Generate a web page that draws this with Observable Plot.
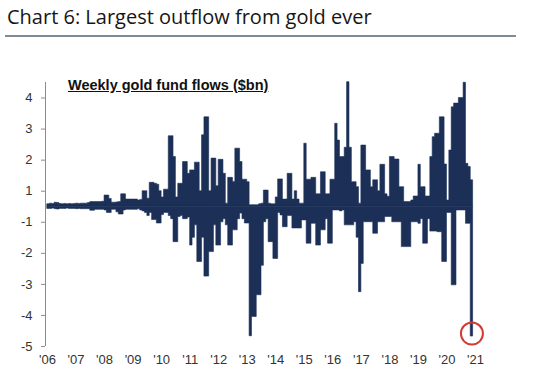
<!DOCTYPE html>
<html><head><meta charset="utf-8">
<script src="https://cdn.jsdelivr.net/npm/d3@7"></script>
<script src="https://cdn.jsdelivr.net/npm/@observablehq/plot@0.6"></script>
<style>
body{margin:0;background:#fff;}
#wrap{position:relative;width:560px;height:372px;overflow:hidden;background:#fff;}
#title{position:absolute;left:7px;top:3px;font-family:"Open Sans",Lato,sans-serif;font-size:20px;color:#151515;white-space:nowrap;}
#rule{position:absolute;left:5px;top:35px;width:511px;height:2px;background:#7f8b97;}
#chart{position:absolute;left:0;top:0;}
#sub{position:absolute;left:68px;top:77px;font-family:"Liberation Sans",Arial,sans-serif;font-weight:bold;font-size:14.5px;text-decoration:underline;color:#111;white-space:nowrap;}
</style></head><body>
<div id="wrap"><div id="title">Chart 6: Largest outflow from gold ever</div><div id="rule"></div><div id="chart"></div><div id="sub">Weekly gold fund flows ($bn)</div></div>
<script>
// Monthly envelope of weekly gold fund flows ($bn), Jan 2006 – Nov 2020
const years = [2006,2007,2008,2009,2010,2011,2012,2013,2014,2015,2016,2017,2018,2019,2020];
const maxInflow = [
  0.08,0.1,0.09,0.13,0.12,0.09,0.08,0.09,0.08,0.09,0.08,0.09,
  0.1,0.09,0.1,0.1,0.1,0.12,0.15,0.15,0.15,0.15,0.15,0.16,
  0.36,0.36,0.25,0.13,0.13,0.14,0.15,0.4,0.4,0.23,0.23,0.23,
  0.23,0.23,0.2,0.22,0.5,0.5,0.26,0.77,0.77,0.74,0.71,0.5,
  0.3,0.55,0.55,2.27,2.27,1.6,0.3,0.74,0.74,1.44,1.44,1.06,
  1.17,1.17,1.42,1.42,0.5,2.3,2.88,2.88,0.5,1.55,1.55,0.66,
  1.51,1.51,1.06,0.1,0.93,0.93,0.8,1.87,1.87,1.44,0.87,0.87,
  0.79,0.05,0.05,0.05,0.05,0.08,0.1,0.52,0.52,0.1,0.08,0.08,
  0.3,0.88,0.88,0.23,0.23,1.06,1.06,0.23,0.5,0.23,0.1,0.1,
  2.03,0.87,0.87,0.93,0.93,0.4,0.4,1.11,1.11,0.4,0.4,0.87,
  0.87,2.67,2.13,1.6,1.6,1.9,4.01,1.9,0.79,0.79,0.63,0.1,
  1.97,1.97,1.17,1.17,0.63,0.85,0.85,0.5,1.35,1.35,0.4,0.32,
  1.6,1.6,1.52,1.52,0.63,0.63,0.15,0.15,0.15,0.2,0.33,0.33,
  1.35,0.63,0.63,0.33,0.33,1.6,2.24,2.35,2.35,2.88,2.88,1.36,
  0.2,1.81,3.2,3.32,3.32,3.5,3.5,3.99,1.38,1.28,0.85
];
const maxOutflow = [
  -0.07,-0.07,-0.06,-0.08,-0.09,-0.07,-0.07,-0.07,-0.06,-0.07,-0.07,-0.07,
  -0.08,-0.07,-0.08,-0.08,-0.08,-0.08,-0.13,-0.13,-0.1,-0.1,-0.1,-0.1,
  -0.12,-0.2,-0.2,-0.1,-0.1,-0.18,-0.25,-0.25,-0.12,-0.1,-0.1,-0.1,
  -0.1,-0.1,-0.08,-0.12,-0.15,-0.2,-0.3,-0.2,-0.43,-0.43,-0.54,-0.54,
  -0.27,-0.2,-0.2,-0.3,-0.4,-1.14,-1.14,-0.33,-0.3,-0.4,-0.4,-0.35,
  -1.25,-1.0,-0.6,-1.78,-1.78,-1.0,-2.25,-2.25,-1.46,-1.46,-0.6,-1.25,
  -1.25,-0.5,-0.4,-0.6,-1.25,-1.25,-0.76,-0.76,-0.4,-0.22,-0.4,-0.54,
  -0.54,-4.17,-3.55,-3.55,-2.85,-2.85,-1.9,-0.5,-0.4,-1.14,-1.14,-1.68,
  -1.68,-0.2,-0.28,-0.66,-0.66,-0.3,-0.3,-0.7,-0.7,-0.7,-0.7,-0.44,
  -0.44,-1.19,-1.19,-0.55,-0.55,-1.25,-1.25,-0.76,-0.76,-0.4,-1.19,-1.19,
  -0.12,-0.12,-0.12,-0.15,-0.12,-0.6,-0.6,-0.6,-0.6,-0.5,-1.0,-2.75,
  -1.84,-0.5,-0.5,-0.5,-0.5,-0.87,-0.87,-0.5,-0.5,-0.5,-0.33,-0.33,
  -0.33,-0.5,-0.5,-0.5,-0.5,-1.3,-1.3,-1.3,-1.3,-0.5,-0.5,-0.5,
  -0.55,-0.4,-1.19,-1.19,-0.4,-0.8,-0.8,-0.8,-0.82,-0.82,-1.78,-1.78,
  -0.2,-0.2,-2.53,-2.53,-0.12,-0.12,-0.12,-0.12,-0.55,-0.55,-4.18
];
const yTickLabels = [4,3,2,1,-1,-2,-3,-4,-5];
const xTickLabels = ["'06","'07","'08","'09","'10","'11","'12","'13","'14","'15","'16","'17","'18","'19","'20","'21"];

const navy = "#1b2f57";
const rows = maxInflow.map((v, i) => ({
  t: years[0] + i / 12,
  tm: years[0] + (i + 0.5) / 12,
  inflow: v,
  outflow: maxOutflow[i]
}));
// closing point so the last month keeps its full width in a step area
const last = rows[rows.length - 1];
const stepRows = rows.concat([{t: last.t + 1 / 12, inflow: last.inflow, outflow: last.outflow}]);
const record = rows.reduce((a, b) => (b.outflow < a.outflow ? b : a));
// the chart's zero sits between the "1" and "-1" labels
const tickPos = yTickLabels.map(L => L - 0.5 * Math.sign(L));
const tickLabel = new Map(tickPos.map((p, i) => [p, String(yTickLabels[i])]));
const xTicks = xTickLabels.map((s, i) => years[0] + i);
const yDomain = [tickPos[tickPos.length - 1], 4.0];
const xDomain = [2005.93, xTicks[xTicks.length - 1]];

const chart = Plot.plot({
  width: 560,
  height: 372,
  marginTop: 82,
  marginBottom: 26,
  marginLeft: 45,
  marginRight: 85,
  style: {fontFamily: "'Liberation Sans', Arial, sans-serif", fontSize: "13px", color: "#333", background: "transparent"},
  x: {type: "linear", domain: xDomain},
  y: {domain: yDomain},
  marks: [
    Plot.areaY(stepRows, {x: "t", y1: 0, y2: "inflow", curve: "step-after", fill: navy, stroke: navy, strokeWidth: 0.6}),
    Plot.areaY(stepRows, {x: "t", y1: 0, y2: "outflow", curve: "step-after", fill: navy, stroke: navy, strokeWidth: 0.6}),
    Plot.ruleX([xDomain[0]], {y1: yDomain[0], y2: yDomain[1], stroke: "#8c8c8c", strokeWidth: 1}),
    Plot.axisY({ticks: tickPos, tickFormat: d => tickLabel.get(d), tickSize: 4, tickPadding: 9, stroke: "#8c8c8c", label: null, fill: "#333"}),
    Plot.axisX({ticks: xTicks, tickFormat: d => xTickLabels[Math.round(d - years[0])], tickSize: 0, tickPadding: 8, label: null, fill: "#333"}),
    Plot.dot([record], {x: "tm", y: "outflow", r: 11, stroke: "#d23a32", strokeWidth: 2, fill: "none", dy: -3})
  ]
});
document.getElementById("chart").appendChild(chart);
</script>
</body></html>
